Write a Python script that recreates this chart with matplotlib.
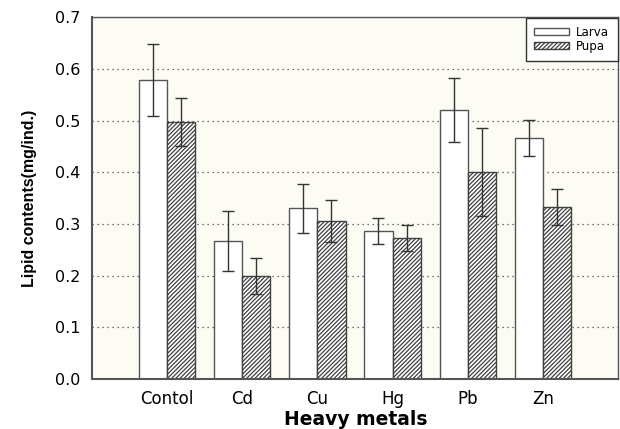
import numpy as np
import matplotlib as mpl
import matplotlib.pyplot as plt
mpl.use('agg')

plt.rcParams['font.family'] = ['DejaVu Sans']
plt.rcParams['hatch.linewidth'] = 0.9

## lipid contents per stage, mean and error
metals = ['Contol', 'Cd', 'Cu', 'Hg', 'Pb', 'Zn']
larva = [0.579, 0.267, 0.330, 0.287, 0.520, 0.467]
larva_err = [0.070, 0.058, 0.047, 0.025, 0.062, 0.035]
pupa = [0.497, 0.200, 0.306, 0.273, 0.400, 0.333]
pupa_err = [0.047, 0.035, 0.041, 0.025, 0.085, 0.035]
yticks = [0.0, 0.1, 0.2, 0.3, 0.4, 0.5, 0.6, 0.7]

fig = plt.figure(figsize=(6.2, 4.29), dpi=100)
ax = fig.add_axes([0.148, 0.1166, 0.849, 0.8434])
ax.set_facecolor('#fdfcf4')

x = np.arange(1, len(metals) + 1)
w = 0.375
ax.bar(x - w/2, larva, w, color='white', edgecolor='#555555', linewidth=1.0,
       label='Larva', zorder=2)
ax.bar(x + w/2, pupa, w, color='white', edgecolor='#404040', hatch='////////',
       linewidth=1.0, label='Pupa', zorder=2)
ax.errorbar(x - w/2, larva, yerr=larva_err, fmt='none', ecolor='#333333',
            elinewidth=1.0, capsize=4, capthick=1.0, zorder=3)
ax.errorbar(x + w/2, pupa, yerr=pupa_err, fmt='none', ecolor='#333333',
            elinewidth=1.0, capsize=4, capthick=1.0, zorder=3)

ax.set_xlim(0, 7)
ax.set_ylim(0, 0.7)
ax.set_xticks(x)
ax.set_xticklabels(metals, fontsize=12)
ax.set_yticks(yticks)
ax.set_yticklabels(['%.1f' % t for t in yticks], fontsize=11.5)
ax.tick_params(axis='both', length=0, pad=8)
ax.yaxis.grid(True, linestyle=(0, (1, 3)), color='#444444', linewidth=0.9, zorder=1)
ax.set_axisbelow(True)

for s in ['left', 'bottom']:
    ax.spines[s].set_color('#555555')
    ax.spines[s].set_linewidth(1.5)
for s in ['top', 'right']:
    ax.spines[s].set_color('#555555')
    ax.spines[s].set_linewidth(1.0)

ax.set_ylabel('Lipid contents(mg/ind.)', fontsize=11.5, fontweight='bold',
              family='Liberation Sans', labelpad=13)
fig.text(0.573, 0.022, 'Heavy metals', fontsize=13.5, fontweight='bold',
         ha='center', va='center')

leg = ax.legend(loc='upper right', fontsize=8.5, fancybox=False, framealpha=1,
                borderaxespad=0.05, handlelength=3.0, handleheight=0.55,
                handletextpad=0.6, labelspacing=0.05, borderpad=0.7)
leg.get_frame().set_edgecolor('#333333')
leg.get_frame().set_linewidth(1.0)

fig.savefig('out.png', dpi=100)
